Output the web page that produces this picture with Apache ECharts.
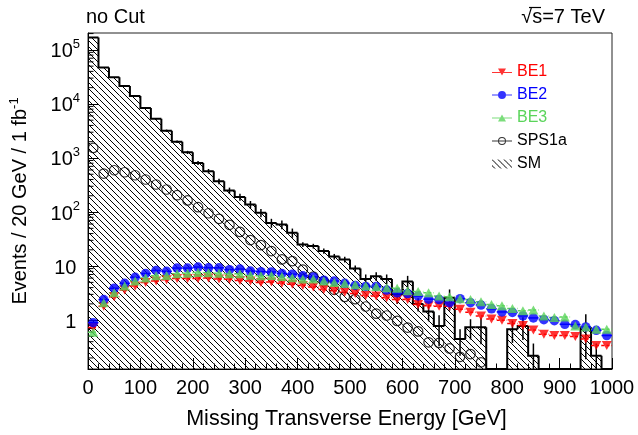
<!DOCTYPE html>
<html>
<head>
<meta charset="utf-8">
<script src="https://cdn.jsdelivr.net/npm/echarts@6/dist/echarts.min.js"></script>
<style>
  html, body { margin: 0; padding: 0; background: #fff; }
  #chart { width: 638px; height: 435px; }
</style>
</head>
<body>
<div id="chart"></div>
<script>
// Missing transverse energy, 20 GeV bins from 0 to 1000 GeV, events per 1 fb^-1
const binWidth = 20;
const binCenters = [10, 30, 50, 70, 90, 110, 130, 150, 170, 190,
  210, 230, 250, 270, 290, 310, 330, 350, 370, 390,
  410, 430, 450, 470, 490, 510, 530, 550, 570, 590,
  610, 630, 650, 670, 690, 710, 730, 750, 770, 790,
  810, 830, 850, 870, 890, 910, 930, 950, 970, 990];

// Standard Model background (hatched histogram) and its statistical errors
const smValues = [170000, 47000, 31000, 21400, 14000, 8400, 5300, 3200, 2000, 1270,
  810, 570, 370, 250, 190, 138, 97, 63, 59, 41.5,
  25, 23.5, 19, 15, 13.3, 9.0, 5.8, 6.5, 5.8, 3.0,
  5.2, 2.0, 1.45, 0.78, 2.6, 0.45, 0.74, 0.74, 0, 0,
  0.68, 0.78, 0.22, 0, 0, 0, 0, 0.74, 0.22, 0];
const smErrors = [1500, 700, 550, 450, 350, 260, 200, 150, 110, 85,
  65, 55, 42, 33, 28, 22, 17, 12, 11, 8,
  2.5, 2.4, 2.1, 1.8, 1.6, 1.3, 1.2, 1.2, 1.2, 1.0,
  1.4, 0.55, 0.5, 0.45, 1.1, 0.23, 0.3, 0.38, 0, 0,
  0.3, 0.35, 0.15, 0, 0, 0, 0, 0.55, 0.15, 0];

// Signal benchmarks
const sps1a = [1535, 515, 593, 545, 479, 400, 323, 261, 205, 164,
  123, 95, 75, 58, 43, 30.3, 24.5, 19, 13.3, 12.4,
  8.6, 6.4, 5.25, 3.65, 2.7, 2.45, 1.79, 1.32, 1.22, 0.97,
  0.73, 0.62, 0.39, 0.38, 0.30, 0.21, 0.236, 0.166, null, null,
  null, null, null, null, null, null, null, null, null, null];
const be1 = [0.73, 1.8, 2.7, 3.6, 4.3, 5.0, 5.3, 5.6, 5.9, 5.9,
  5.9, 6.0, 5.8, 5.7, 5.4, 5.3, 5.0, 5.1, 4.8, 4.6,
  4.4, 4.1, 3.7, 3.5, 3.3, 3.1, 2.85, 2.8, 2.6, 2.4,
  2.4, 1.95, 1.85, 1.8, 1.8, 1.6, 1.4, 1.2, 1.05, 1.0,
  0.87, 0.8, 0.66, 0.55, 0.52, 0.52, 0.5, 0.45, 0.34, 0.34];
const be2 = [0.9, 2.4, 3.9, 4.8, 6.2, 7.3, 8.3, 8.0, 9.2, 9.2,
  9.6, 9.3, 9.3, 8.6, 8.8, 8.1, 7.9, 7.8, 7.3, 7.1,
  6.6, 6.3, 5.5, 5.3, 4.8, 4.4, 4.2, 4.2, 3.6, 3.2,
  3.1, 2.8, 2.45, 2.4, 2.1, 2.5, 2.1, 1.9, 1.62, 1.42,
  1.39, 1.2, 1.1, 1.02, 0.98, 0.84, 0.83, 0.75, 0.65, 0.52];
const be3 = [0.6, 2.1, 3.2, 4.3, 5.3, 6.0, 6.6, 6.7, 7.2, 7.4,
  7.6, 7.5, 7.4, 7.2, 7.2, 6.8, 6.6, 6.7, 6.4, 6.1,
  5.8, 5.8, 5.3, 5.0, 4.8, 4.5, 4.3, 4.2, 4.0, 3.9,
  3.5, 3.4, 3.2, 2.8, 2.7, 2.5, 2.4, 2.2, 1.95, 1.85,
  1.65, 1.5, 1.55, 1.2, 1.12, 1.15, 0.78, 0.75, 0.68, 0.68];

// Axis ranges and tick labels
const xMin = 0, xMax = 1000, xStep = 100;
const yMin = 0.125, yMax = 2.05e5;
const yTickValues = [1, 10, 100, 1000, 10000, 100000];
const yTickText = ['{b|1}{s| }', '{b|10}{s| }', '{b|10}{s|2}', '{b|10}{s|3}', '{b|10}{s|4}', '{b|10}{s|5}'];

const FONT = '"Liberation Sans", Arial, Helvetica, sans-serif';
const RED = '#ff0000', BLUE = '#0000ff', GREEN = '#5ad45a';

// diagonal "\\\\" hatch used for the SM fill
function makeHatch(period) {
  const c = document.createElement('canvas');
  c.width = period; c.height = period;
  const g = c.getContext('2d');
  g.fillStyle = '#000';
  for (let i = 0; i < period; i++) g.fillRect(i, i, 1, 1);
  return c;
}
const hatch = { image: makeHatch(6), repeat: 'repeat' };

// histogram rows: [low edge, high edge, content, previous content, error]
const smRows = binCenters.map((c, i) => [
  c - binWidth / 2, c + binWidth / 2, smValues[i], i > 0 ? smValues[i - 1] : 0, smErrors[i]
]);

function renderHist(params, api) {
  const x0 = api.value(0), x1 = api.value(1);
  const v = api.value(2), prev = api.value(3), err = api.value(4);
  const last = params.dataIndex === smRows.length - 1;
  const yv = v > 0 ? v : yMin;
  const yp = prev > 0 ? prev : yMin;
  const pTopL = api.coord([x0, yv]);
  const pTopR = api.coord([x1, yv]);
  const pPrev = api.coord([x0, yp]);
  const pBase = api.coord([x0, yMin]);
  const children = [];
  if (v > 0) {
    children.push({
      type: 'rect',
      shape: { x: pTopL[0], y: pTopL[1], width: pTopR[0] - pTopL[0], height: pBase[1] - pTopL[1] },
      style: { fill: hatch }
    });
  }
  const pts = [pPrev, pTopL, pTopR];
  if (last) pts.push([pTopR[0], pBase[1]]);
  children.push({ type: 'polyline', shape: { points: pts }, style: { stroke: '#000', lineWidth: 2, fill: null } });
  if (err > 0 && v > 0) {
    const xc = (x0 + x1) / 2;
    const a = api.coord([xc, v + err]);
    const b = api.coord([xc, Math.max(v - err, yMin)]);
    children.push({ type: 'line', shape: { x1: a[0], y1: a[1], x2: b[0], y2: b[1] }, style: { stroke: '#000', lineWidth: 1.5 } });
  }
  return { type: 'group', children };
}

function points(values) {
  return binCenters.map((c, i) => [c, values[i]]).filter(p => p[1] != null && p[1] > 0);
}

// horizontal bin-width bars under the signal markers
function barSeries(values, color, dashed) {
  return {
    type: 'custom',
    name: 'bars',
    silent: true,
    clip: true,
    data: points(values),
    encode: { x: 0, y: 1 },
    renderItem: function (params, api) {
      const x = api.value(0), v = api.value(1);
      const a = api.coord([x - binWidth / 2, v]);
      const b = api.coord([x + binWidth / 2, v]);
      return {
        type: 'line',
        shape: { x1: a[0], y1: a[1], x2: b[0], y2: b[1] },
        style: { stroke: color, lineWidth: 1.5, lineDash: dashed ? [3, 2] : null }
      };
    }
  };
}

// minor ticks on the log axis (2..9 x each decade)
const yMinor = [];
for (let k = -1; k <= 5; k++) {
  for (let m = 2; m <= 9; m++) {
    const v = m * Math.pow(10, k);
    if (v > yMin && v < yMax) yMinor.push([xMin, v]);
  }
}

const icons = {
  be1: 'path://M0,4.4 L20,4.4 L20,5.6 L0,5.6 Z M6,1 L14,1 L10,8 Z',
  be2: 'path://M0,4.4 L20,4.4 L20,5.6 L0,5.6 Z M14,5 A4,4 0 1 1 6,5 A4,4 0 1 1 14,5 Z',
  be3: 'path://M0,4.4 L20,4.4 L20,5.6 L0,5.6 Z M10,1.5 L14,8.5 L6,8.5 Z',
  sps: 'path://M0,4.4 L20,4.4 L20,5.6 L0,5.6 Z M14,5 A4,4 0 1 1 6,5 A4,4 0 1 1 14,5 Z M13,5 A3,3 0 1 0 7,5 A3,3 0 1 0 13,5 Z'
};

const chart = echarts.init(document.getElementById('chart'));
chart.setOption({
  animation: false,
  backgroundColor: '#fff',
  textStyle: { fontFamily: FONT },
  grid: { left: 86, top: 33, width: 526, height: 337, show: true, borderColor: '#222', borderWidth: 1 },
  graphic: [
    { type: 'text', x: 86, y: 17, style: { text: 'no Cut', font: '20px ' + FONT, fill: '#000', verticalAlign: 'middle', align: 'left' } },
    { type: 'text', x: 605, y: 17, style: { text: '\u221As=7 TeV', font: '20px ' + FONT, fill: '#000', verticalAlign: 'middle', align: 'right' } },
    // radical bar extended over the "s"
    { type: 'line', shape: { x1: 529, y1: 7.5, x2: 541, y2: 7.5 }, style: { stroke: '#000', lineWidth: 1.2 } }
  ],
  legend: {
    orient: 'vertical', left: 492, top: 64, padding: 0,
    itemWidth: 20, itemHeight: 9, itemGap: 7,
    selectedMode: false,
    textStyle: { fontSize: 16, lineHeight: 16, fontFamily: FONT, color: '#000' },
    data: [
      { name: 'BE1', icon: icons.be1, textStyle: { color: RED } },
      { name: 'BE2', icon: icons.be2, textStyle: { color: BLUE } },
      { name: 'BE3', icon: icons.be3, textStyle: { color: GREEN } },
      { name: 'SPS1a', icon: icons.sps, itemStyle: { color: '#000', borderWidth: 0 } },
      { name: 'SM', icon: 'rect', itemStyle: { color: hatch, borderWidth: 0 } }
    ]
  },
  xAxis: {
    type: 'value', min: xMin, max: xMax, interval: xStep,
    axisLine: { lineStyle: { color: '#000', width: 1 } },
    axisTick: { inside: true, length: 11, lineStyle: { color: '#000' } },
    minorTick: { show: true, splitNumber: 5, length: 5.5, lineStyle: { color: '#000' } },
    splitLine: { show: false },
    axisLabel: { fontSize: 20, color: '#000', margin: 9, fontFamily: FONT, formatter: v => String(v) },
    name: 'Missing Transverse Energy [GeV]', nameLocation: 'middle', nameGap: 39,
    nameTextStyle: { fontSize: 21.5, color: '#000', fontFamily: FONT, padding: [0, 7, 0, 0] }
  },
  yAxis: {
    type: 'log', logBase: 10, min: yMin, max: yMax,
    axisLine: { lineStyle: { color: '#000', width: 1 } },
    axisTick: { inside: true, length: 11, lineStyle: { color: '#000' } },
    splitLine: { show: false },
    axisLabel: {
      showMinLabel: false, showMaxLabel: false, margin: 8, color: '#000',
      formatter: function (v) {
        for (let i = 0; i < yTickValues.length; i++) {
          if (Math.abs(v - yTickValues[i]) / yTickValues[i] < 1e-6) return yTickText[i];
        }
        return '';
      },
      rich: {
        b: { fontSize: 20, lineHeight: 20, verticalAlign: 'bottom', fontFamily: FONT, color: '#000' },
        s: { fontSize: 13, lineHeight: 24, verticalAlign: 'top', fontFamily: FONT, color: '#000' }
      }
    },
    name: 'Events / 20 GeV / 1 fb{s|-1}', nameLocation: 'middle', nameGap: 56,
    nameTextStyle: {
      fontSize: 20, color: '#000', fontFamily: FONT,
      rich: {
        s: { fontSize: 13, lineHeight: 24, verticalAlign: 'top', fontFamily: FONT, color: '#000' }
      }
    }
  },
  series: [
    {
      type: 'custom', name: 'SM', clip: true,
      itemStyle: { color: hatch },
      data: smRows,
      encode: { x: [0, 1], y: 2 },
      renderItem: renderHist
    },
    {
      type: 'custom', name: 'minor ticks', silent: true,
      data: yMinor, encode: { x: 0, y: 1 },
      renderItem: function (params, api) {
        const p = api.coord([api.value(0), api.value(1)]);
        return { type: 'line', shape: { x1: p[0], y1: p[1], x2: p[0] + 5.5, y2: p[1] }, style: { stroke: '#000', lineWidth: 1 } };
      }
    },
    {
      type: 'scatter', name: 'SPS1a', data: points(sps1a),
      symbol: 'circle', symbolSize: 9.5,
      itemStyle: { color: 'rgba(0,0,0,0)', borderColor: '#000', borderWidth: 1.2 }
    },
    barSeries(be1, RED, true),
    barSeries(be2, BLUE, false),
    barSeries(be3, GREEN, true),
    {
      type: 'scatter', name: 'BE1', data: points(be1),
      symbol: 'triangle', symbolRotate: 180, symbolSize: [10, 9],
      itemStyle: { color: RED }
    },
    {
      type: 'scatter', name: 'BE2', data: points(be2),
      symbol: 'circle', symbolSize: 9.5,
      itemStyle: { color: BLUE }
    },
    {
      type: 'scatter', name: 'BE3', data: points(be3),
      symbol: 'triangle', symbolSize: [10, 9],
      itemStyle: { color: GREEN }
    }
  ]
});
</script>
</body>
</html>
